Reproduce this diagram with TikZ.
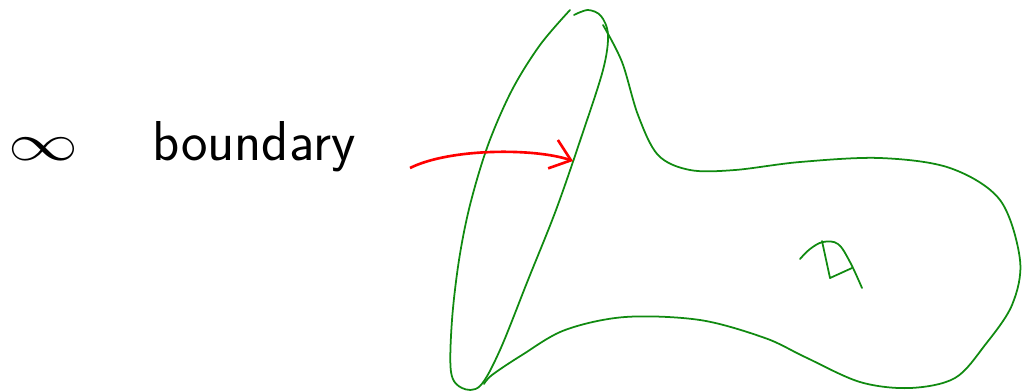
\documentclass[tikz,border=0pt]{standalone}
\usepackage{tikz}
\usetikzlibrary{arrows.meta,positioning,calc}
\definecolor{SketchGreen}{HTML}{108A10}
\definecolor{SketchRed}{HTML}{FF0000}

\begin{document}
\begin{tikzpicture}[
			x=0.02cm,y=-0.02cm,
			surf/.style={draw=SketchGreen,line width=1pt,line join=round,line cap=round},
			arr/.style={-{Straight Barb[length=3.8mm,width=6mm]},line width=1.5pt,SketchRed},
			lbl/.style={font=\sffamily\fontsize{32}{38}\selectfont,inner sep=0pt,anchor=base west}
		]
		\useasboundingbox (0,0) rectangle (1024,390);
		\node[lbl] (inf) at (8,160) {\scalebox{1.6}[1.2]{$\infty$}};
		\node[lbl] (bd) at (152,160) {boundary};
		\coordinate (tail) at (410,168);
		\coordinate (tip) at (573,161);
		% the boundary loop
		\draw[surf] plot[smooth,tension=0.55] coordinates {(570,10) (540,45) (512,90) (488,145) (470,205) (459,260) (452,320) (451,372) (462,388) (480,386) (500,350) (528,280) (556,210) (582,135) (603,70) (608,35) (601,16) (588,10) (574,15)};
		% the rest of the surface
		\draw[surf] plot[smooth,tension=0.55] coordinates {(603,25) (622,62) (638,115) (658,155) (690,170) (735,170) (800,162) (880,158) (950,168) (1000,200) (1020,260) (1012,305) (985,345) (955,378) (910,388) (860,382) (805,357) (765,338) (700,320) (625,317) (565,330) (522,355) (492,375) (484,384)};
		% the letter inside
		\draw[surf] plot[smooth,tension=0.6] coordinates {(800,259) (810,249) (823,242) (838,244) (850,262) (862,288)};
		\draw[surf] (822,241) -- (830,278) -- (852,268);
		\draw[arr] (tail) .. controls (450,148) and (535,148) .. (tip);
	\end{tikzpicture}
\end{document}
